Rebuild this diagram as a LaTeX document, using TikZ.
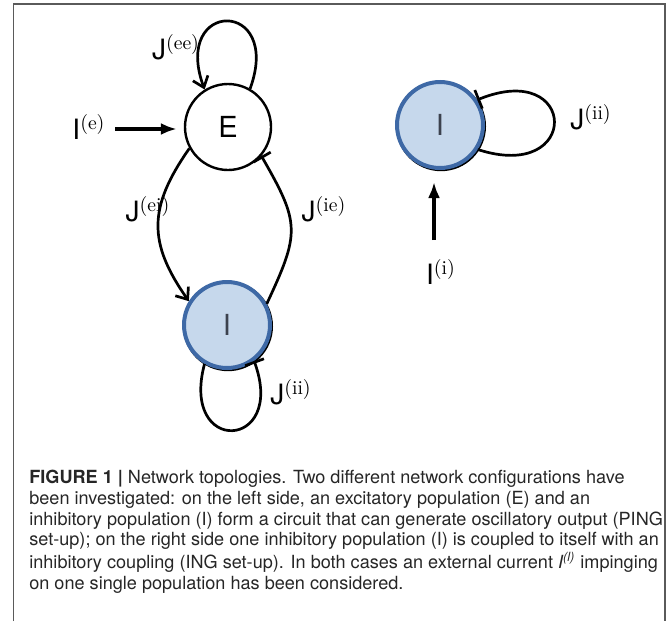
\documentclass[tikz,border=0pt]{standalone}
\usepackage{amsmath}
\usepackage{fontspec}
\newfontfamily\helv{TeX Gyre Heros}
\usetikzlibrary{arrows.meta,positioning}

\definecolor{popfill}{RGB}{198,216,236}
\definecolor{popblue}{RGB}{62,105,166}
\definecolor{popgray}{RGB}{60,66,78}
\definecolor{framecol}{RGB}{90,90,90}

\begin{document}
\begin{tikzpicture}[x=0.5pt, y=-0.5pt, line width=1.35pt,
  pop/.style={draw, circle, minimum size=43pt, inner sep=0pt, line width=1.2pt, font=\helv\fontsize{14.5}{16}\selectfont},
  inhpop/.style={pop, fill=popfill, draw=popblue, line width=2pt, text=popgray,
    preaction={draw=black, line width=2pt, transform canvas={shift={(0.5pt,-0.6pt)}}}},
  lab/.style={inner sep=0pt, font=\helv\fontsize{14}{16}\selectfont},
  exc/.style={-{Straight Barb[length=5pt, width=8pt]}},
  inh/.style={-{Bar[width=10pt]}},
  drive/.style={line width=1.7pt, -{Latex[length=8pt, width=6pt]}}]

\useasboundingbox (0,0) rectangle (672,621);
\draw[framecol, line width=0.6pt] (13.5,621) |- (665,4) -- (665,621);

% PING circuit
\node[pop] (E) at (228,127) {E};
\node[inhpop] (Il) at (227,325) {I};
% ING circuit
\node[inhpop] (Ir) at (440,125) {I};

\coordinate (ein) at (115,129);
\coordinate (iin) at (434,240);

\draw[drive, shorten >=3.5pt] (ein) -- (E.west |- ein);
\draw[drive, shorten >=6pt] (iin) -- (iin |- Ir.south);

\draw[exc] (E.60) to[out=70,in=110,looseness=5.4] (E.122);
\draw[exc] (E.209) to[out=235,in=125,looseness=1.2] (Il.148);
\draw[inh] (Il.28) to[out=65,in=-60,looseness=1.35] (E.319);
\draw[inh] (Il.240) to[out=255,in=290,looseness=4.9] (Il.307);
\draw[inh] (Ir.-33) to[out=-18,in=22,looseness=5.6] (Ir.34);

\node[lab] (Jee) at (176,47) {J$^{(\mathrm{ee})}$};
\node[lab] (Ie) at (89,127) {I$^{(\mathrm{e})}$};
\node[lab] (Jei) at (148,209) {J$^{(\mathrm{ei})}$};
\node[lab] (Jie) at (324,209) {J$^{(\mathrm{ie})}$};
\node[lab] (Jii) at (291,392) {J$^{(\mathrm{ii})}$};
\node[lab] (Jiir) at (591,117) {J$^{(\mathrm{ii})}$};
\node[lab] (Ii) at (441,272) {I$^{(\mathrm{i})}$};

% caption
\node[anchor=north west, inner sep=0pt, align=left, text=black!85, font=\helv\fontsize{9.05}{10.35}\selectfont] (cap) at (28,469)
  {\textbf{FIGURE 1 |} Network topologies. Two different network configurations have\\
   been investigated: on the left side, an excitatory population (E) and an\\
   inhibitory population (I) form a circuit that can generate oscillatory output (PING\\
   set-up); on the right side one inhibitory population (I) is coupled to itself with an\\
   inhibitory coupling (ING set-up). In both cases an external current {\itshape I}\textsuperscript{\itshape (l)} impinging\\
   on one single population has been considered.};

\end{tikzpicture}
\end{document}
